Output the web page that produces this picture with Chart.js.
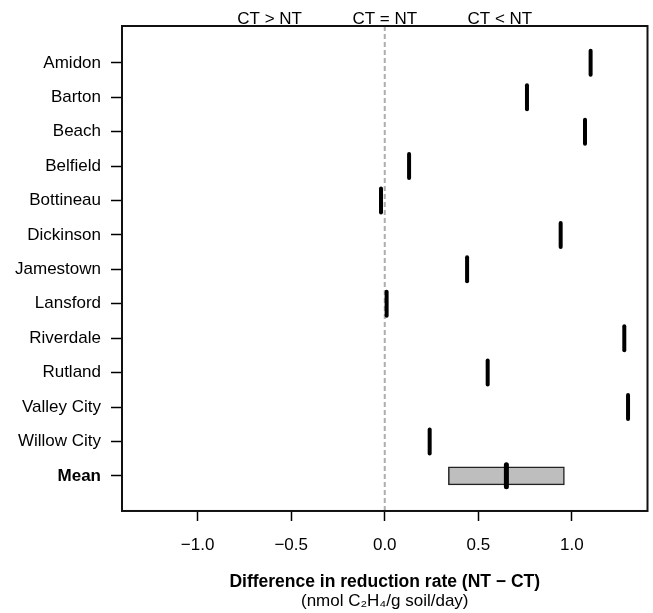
<!DOCTYPE html>
<html>
<head>
<meta charset="utf-8">
<script src="https://cdn.jsdelivr.net/npm/chart.js@4"></script>
<style>
  body { margin: 0; background: #fff; }
  canvas { display: block; }
</style>
</head>
<body>
<canvas id="chart" width="653" height="613"></canvas>
<script>
// data
const sites = ["Amidon", "Barton", "Beach", "Belfield", "Bottineau", "Dickinson",
               "Jamestown", "Lansford", "Riverdale", "Rutland", "Valley City", "Willow City"];
const siteDiff = [1.10, 0.76, 1.07, 0.13, -0.02, 0.94, 0.44, 0.01, 1.28, 0.55, 1.30, 0.24];
const meanLabel = "Mean";
const meanValue = 0.65;
const meanInterval = [0.34, 0.96];
const xTicks = [-1.0, -0.5, 0.0, 0.5, 1.0];
const topLabels = ["CT > NT", "CT = NT", "CT < NT"];
const topLabelPos = [-0.615, 0, 0.615];

const xMin = -1.404, xMax = 1.404;
const yMin = -0.07, yMax = 14.02;
const rowLabels = sites.concat([meanLabel]);
const FONT = "'Liberation Sans', Arial, Helvetica, sans-serif";

Chart.defaults.color = "#000";
Chart.defaults.font.family = FONT;

const plotBox = {
    id: "plotBox",
    beforeDatasetDraw(chart, args) {
        if (args.meta.type === "scatter") chart.ctx.lineCap = "round";
    },
    afterDatasetDraw(chart) {
        chart.ctx.lineCap = "butt";
    },
    afterDraw(chart) {
        const { ctx, chartArea: a } = chart;
        ctx.save();
        ctx.strokeStyle = "#111";
        ctx.lineWidth = 2;
        ctx.strokeRect(a.left, a.top, a.right - a.left, a.bottom - a.top);
        ctx.restore();
    }
};

new Chart(document.getElementById("chart"), {
    type: "scatter",
    data: {
        datasets: [
            {
                type: "scatter",
                data: siteDiff.map((v, i) => ({ x: v, y: i + 1 })),
                pointStyle: "line",
                rotation: 90,
                radius: 12,
                borderWidth: 4,
                borderColor: "#000",
                order: 1,
            },
            {
                type: "scatter",
                data: [{ x: meanValue, y: rowLabels.length }],
                pointStyle: "line",
                rotation: 90,
                radius: 11,
                borderWidth: 5,
                borderColor: "#000",
                order: 0,
            },
            {
                type: "bar",
                indexAxis: "y",
                data: [{ x: meanInterval, y: rowLabels.length }],
                backgroundColor: "#bebebe",
                borderColor: "#222",
                borderWidth: 1.5,
                borderSkipped: false,
                barThickness: 18,
                order: 2,
            },
            {
                type: "line",
                data: [{ x: 0, y: yMin }, { x: 0, y: yMax }],
                borderColor: "#adadad",
                borderWidth: 2,
                borderDash: [5, 3],
                pointRadius: 0,
                order: 3,
            },
        ],
    },
    options: {
        responsive: false,
        animation: false,
        layout: { autoPadding: false, padding: { top: 0, right: 5.5, bottom: 2.2, left: 0 } },
        plugins: {
            legend: { display: false },
            tooltip: { enabled: false },
            title: {
                display: true,
                text: "Difference in reduction rate (NT \u2212 CT)",
                position: "bottom",
                fullSize: false,
                weight: 10,
                padding: 0,
                color: "#000",
                font: { size: 17.5, weight: "bold", family: FONT, lineHeight: 1.15 },
            },
            subtitle: {
                display: true,
                text: "(nmol C\u2082H\u2084/g soil/day)",
                position: "bottom",
                fullSize: false,
                weight: 20,
                padding: 0,
                color: "#000",
                font: { size: 17, family: FONT, lineHeight: 1.1 },
            },
        },
        scales: {
            x: {
                type: "linear",
                position: "bottom",
                min: xMin,
                max: xMax,
                offset: false,
                afterBuildTicks: s => { s.ticks = xTicks.map(v => ({ value: v })); },
                afterFit: s => { s.height = 61; },
                border: { display: false },
                grid: { drawOnChartArea: false, drawTicks: true, tickLength: 10, tickColor: "#000", tickWidth: 1.5 },
                ticks: {
                    padding: 14,
                    font: { size: 17 },
                    callback: v => (v < 0 ? "\u2212" : "") + Math.abs(v).toFixed(1),
                },
            },
            x2: {
                type: "linear",
                axis: "x",
                position: "top",
                min: xMin,
                max: xMax,
                afterBuildTicks: s => { s.ticks = topLabelPos.map(v => ({ value: v })); },
                afterFit: s => { s.height = 26; },
                border: { display: false },
                grid: { display: false, drawTicks: false },
                ticks: {
                    padding: -4,
                    font: { size: 17 },
                    callback: (v, i) => topLabels[i],
                },
            },
            y: {
                type: "linear",
                min: yMin,
                max: yMax,
                reverse: true,
                offset: false,
                afterBuildTicks: s => { s.ticks = rowLabels.map((_, i) => ({ value: i + 1 })); },
                afterFit: s => { s.width = 122; },
                border: { display: false },
                grid: { offset: false, drawOnChartArea: false, drawTicks: true, tickLength: 11, tickColor: "#000", tickWidth: 1.5 },
                ticks: {
                    padding: 10,
                    font: ctx => ({
                        size: 17,
                        family: FONT,
                        weight: ctx.tick && ctx.tick.value === rowLabels.length ? "bold" : "normal",
                    }),
                    callback: v => rowLabels[v - 1],
                },
            },
        },
    },
    plugins: [plotBox],
});
</script>
</body>
</html>
